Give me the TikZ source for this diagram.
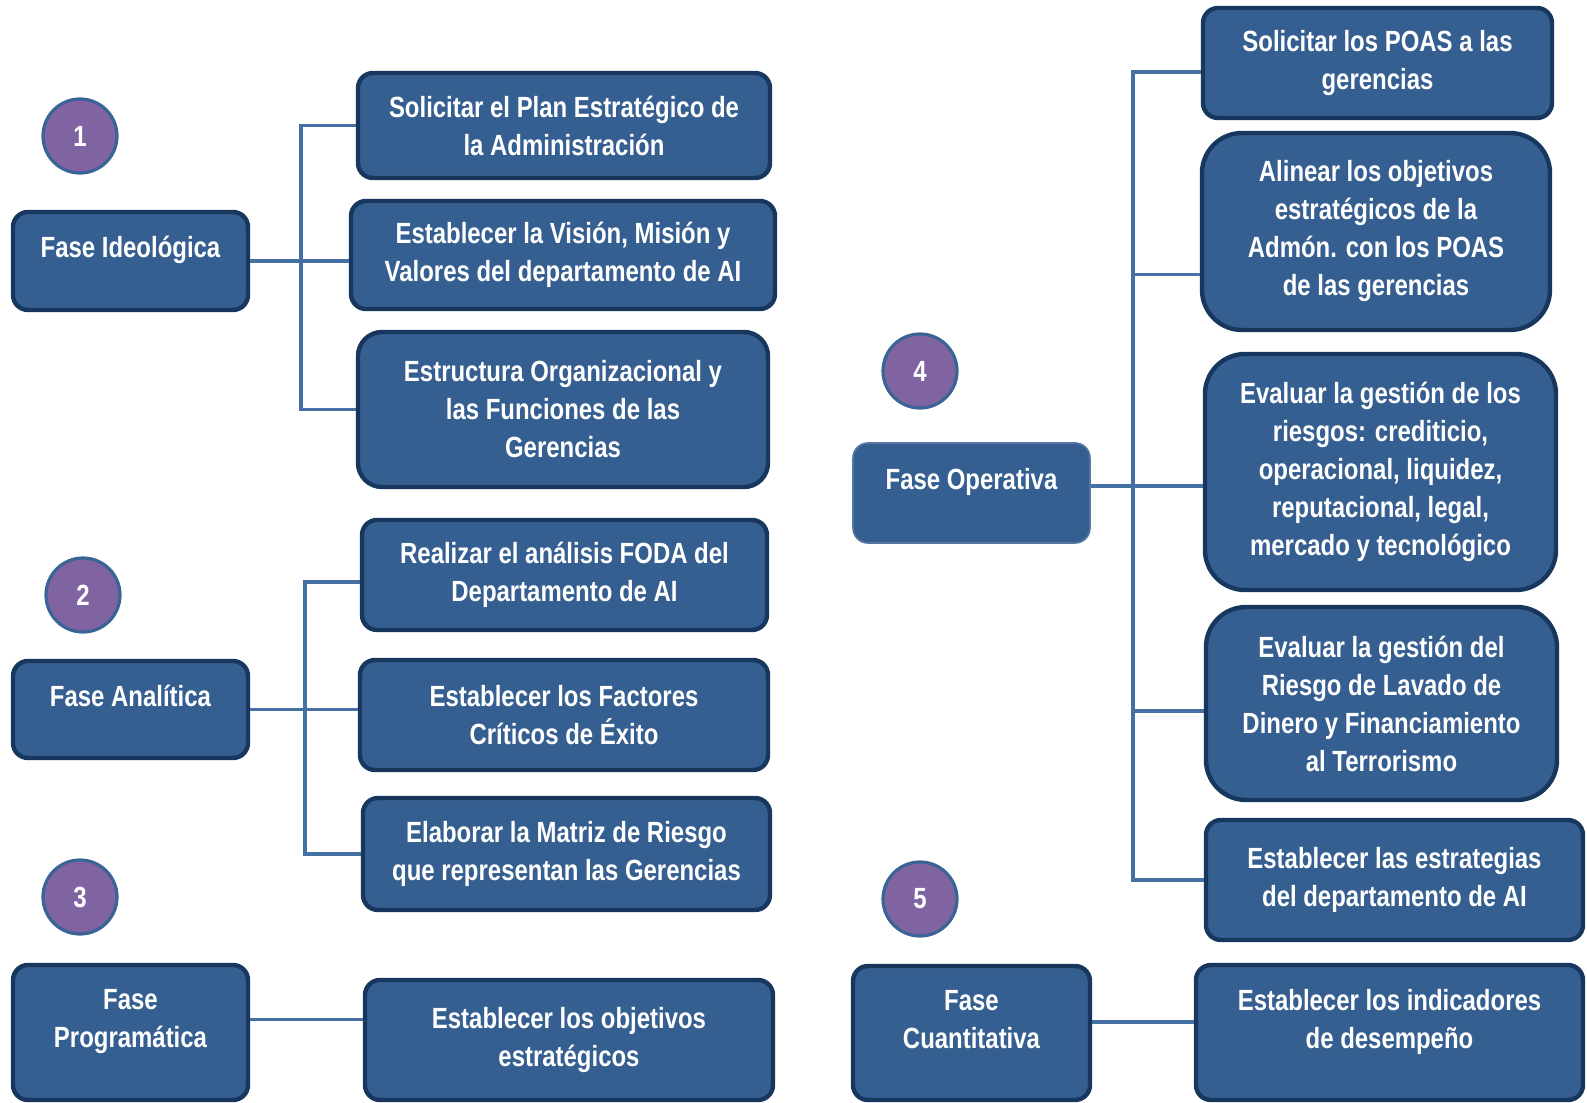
\documentclass[tikz,border=0pt]{standalone}
\usepackage{fontspec}
\setmainfont{Liberation Sans}[FakeStretch=0.82]
\usepackage{xcolor}
\usepackage{tikz}
\usetikzlibrary{positioning}

\definecolor{boxfill}{HTML}{365F91}
\definecolor{boxline}{HTML}{17375E}
\definecolor{numfill}{HTML}{8064A2}
\definecolor{numline}{HTML}{3B6496}
\definecolor{linkcol}{HTML}{4470A4}
\newcommand{\lift}{\\[-5pt]\mbox{}}

\begin{document}
\begin{tikzpicture}[
  x=0.5pt, y=-0.5pt,
  box/.style={draw=boxline, line width=2.2pt, fill=boxfill, rounded corners=7.5pt, align=center, text=white, inner sep=0pt, font=\bfseries\fontsize{14.6}{19}\selectfont},
  big/.style={box, rounded corners=20pt},
  soft/.style={box, draw=boxfill!85!white, line width=0.8pt},
  num/.style={circle, draw=numline, line width=1.6pt, fill=numfill, minimum size=37pt, text=white, inner sep=0pt, font=\bfseries\fontsize{14.6}{19}\selectfont},
  link/.style={draw=linkcol, line width=1.6pt}
]
\useasboundingbox (0,0) rectangle (1587,1103);

% numbers
\node[num] (n1) at (80,136) {1};
\node[num] (n2) at (83,595) {2};
\node[num] (n3) at (80,897) {3};
\node[num] (n4) at (920,371) {4};
\node[num] (n5) at (920,899) {5};

% phases
\node[box, minimum width=117.5pt, minimum height=49pt] (ideo) at (130.5,261) {Fase Ideológica\lift};
\node[box, minimum width=117.5pt, minimum height=48.5pt] (analitica) at (130.5,709.5) {Fase Analítica\lift};
\node[box, minimum width=117.5pt, minimum height=67.5pt] (program) at (130.5,1032.5) {Fase\\Programática\lift};
\node[soft, minimum width=118.5pt, minimum height=50pt] (operativa) at (971.5,493) {Fase Operativa\lift};
\node[box, minimum width=118.5pt, minimum height=67pt] (cuanti) at (971.5,1033) {Fase\\Cuantitativa\lift};

% tasks, left
\node[box, minimum width=206pt, minimum height=52.5pt] (plan) at (564,125.5) {Solicitar el Plan Estratégico de\\la Administración};
\node[box, minimum width=212pt, minimum height=54pt] (vision) at (563,255) {Establecer la Visión, Misión y\\Valores del departamento de AI};
\node[box, rounded corners=12pt, minimum width=205pt, minimum height=77.5pt] (estruct) at (563,409.5) {Estructura Organizacional y\\las Funciones de las\\Gerencias};
\node[box, minimum width=202.5pt, minimum height=55pt] (foda) at (564.5,575) {Realizar el análisis FODA del\\Departamento de AI};
\node[box, minimum width=204pt, minimum height=55pt] (factores) at (564,715) {Establecer los Factores\\Críticos de Éxito};
\node[box, minimum width=203.5pt, minimum height=56pt] (matriz) at (566.5,854) {Elaborar la Matriz de Riesgo\\que representan las Gerencias};
\node[box, minimum width=204pt, minimum height=60pt] (objetivos) at (569,1040) {Establecer los objetivos\\estratégicos};

% tasks, right
\node[box, minimum width=174.5pt, minimum height=55pt] (poas) at (1377.5,63) {Solicitar los POAS a las\\gerencias};
\node[big, minimum width=174pt, minimum height=98.5pt] (alinear) at (1376,231.5) {Alinear los objetivos\\estratégicos de la\\Admón. con los POAS\\de las gerencias};
\node[big, minimum width=175.5pt, minimum height=118pt] (riesgos) at (1380.5,472) {Evaluar la gestión de los\\riesgos: crediticio,\\operacional, liquidez,\\reputacional, legal,\\mercado y tecnológico};
\node[big, minimum width=175.5pt, minimum height=96.5pt] (lavado) at (1381.5,703.5) {Evaluar la gestión del\\Riesgo de Lavado de\\Dinero y Financiamiento\\al Terrorismo};
\node[box, minimum width=188.5pt, minimum height=60pt] (estrategias) at (1394.5,880) {Establecer las estrategias\\del departamento de AI};
\node[box, minimum width=193.5pt, minimum height=67.5pt] (indicadores) at (1389.5,1032.5) {Establecer los indicadores\\de desempeño\lift};

% trunks
\coordinate (tr1) at (301,0);
\coordinate (tr2) at (305,0);
\coordinate (tr4) at (1133,0);

% group 1
\draw[link] (ideo.east) -- (ideo.east -| vision.west);
\draw[link] (plan.west) -- (plan.west -| tr1) -- (estruct.west -| tr1) -- (estruct.west);

% group 2
\draw[link] (analitica.east) -- (analitica.east -| factores.west);
\path ([yshift=-3.5pt]foda.west) coordinate (afoda);
\draw[link] (afoda) -- (afoda -| tr2) -- (matriz.west -| tr2) -- (matriz.west);

% group 3
\path ([yshift=6.5pt]program.east) coordinate (aprog);
\draw[link] (aprog) -- (aprog -| objetivos.west);

% group 4
\path ([yshift=3.5pt]operativa.east) coordinate (aoper);
\draw[link] (aoper) -- (aoper -| riesgos.west);
\path ([yshift=-4.5pt]poas.west) coordinate (apoas);
\path ([yshift=-21.5pt]alinear.west) coordinate (aalin);
\path ([yshift=-3.75pt]lavado.west) coordinate (alav);
\draw[link] (apoas) -- (apoas -| tr4) -- (estrategias.west -| tr4) -- (estrategias.west);
\draw[link] (aalin) -- (aalin -| tr4);
\draw[link] (alav) -- (alav -| tr4);

% group 5
\path ([yshift=5.5pt]cuanti.east) coordinate (acuan);
\draw[link] (acuan) -- (acuan -| indicadores.west);
\end{tikzpicture}
\end{document}
